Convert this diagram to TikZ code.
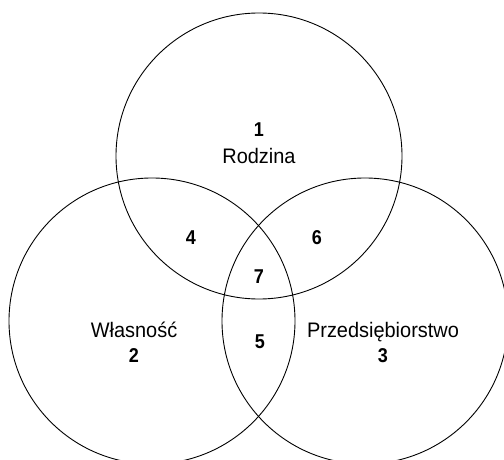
\documentclass[tikz,border=0pt]{standalone}
\usepackage{fontspec}
\setmainfont{Liberation Sans}[FakeStretch=0.95]
\newfontfamily\numfont{Liberation Sans}[FakeStretch=0.9]
\begin{document}
\begin{tikzpicture}[x=1pt,y=-1pt,
  ring/.style={draw=black,line width=0.9pt},
  lbl/.style={font=\fontsize{21}{24}\selectfont,inner sep=0pt,anchor=base},
  num/.style={font=\numfont\fontsize{20}{23}\selectfont\bfseries,inner sep=0pt,anchor=base}]
\useasboundingbox (0,0) rectangle (504,460);
\begin{scope}
\clip (0,0) rectangle (504,460);
\draw[ring] (259,156) circle[radius=143];
\draw[ring] (152,321) circle[radius=143];
\draw[ring] (365,321) circle[radius=143];
\end{scope}
\node[num] (n1) at (259,136) {1};
\node[lbl] (t1) at (259,163.3) {Rodzina};
\node[num] (n4) at (191,244) {4};
\node[num] (n6) at (317,244) {6};
\node[num] (n7) at (259,283) {7};
\node[lbl] (t2) at (134,337) {Własność};
\node[num] (n2) at (134,362.5) {2};
\node[num] (n5) at (260,348) {5};
\node[lbl] (t3) at (383,337) {Przedsiębiorstwo};
\node[num] (n3) at (383,362.5) {3};
\end{tikzpicture}
\end{document}
